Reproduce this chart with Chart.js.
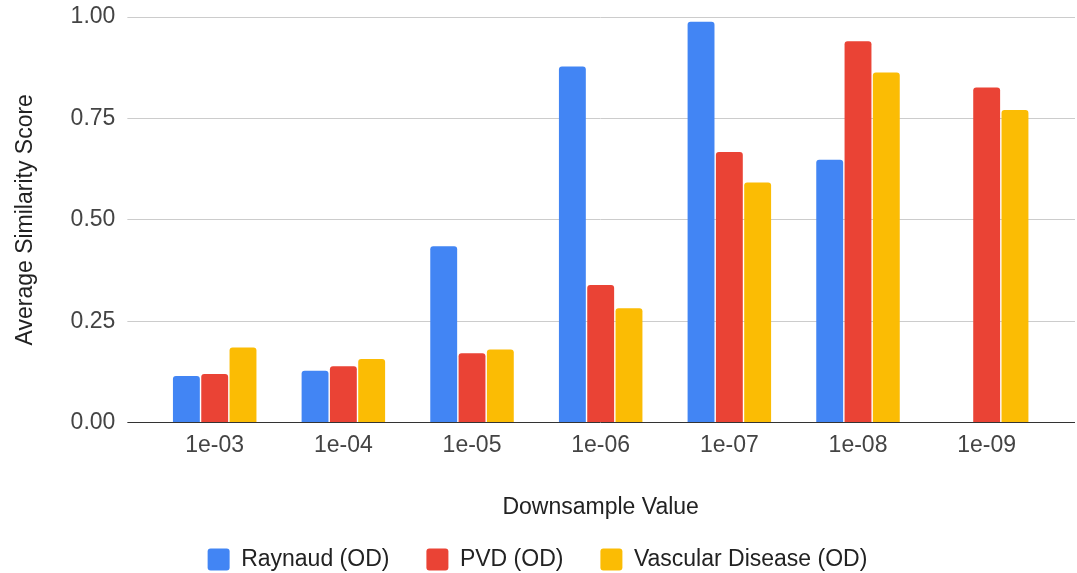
<!DOCTYPE html>
<html>
<head>
<meta charset="utf-8">
<script src="https://cdn.jsdelivr.net/npm/chart.js@4/dist/chart.umd.min.js"></script>
<style>
    body { margin: 0; background: #fff; }
    canvas { display: block; }
</style>
</head>
<body>
<canvas id="canvas" width="1077" height="573"></canvas>
<script>
var labels = ["1e-03", "1e-04", "1e-05", "1e-06", "1e-07", "1e-08", "1e-09"];
var raynaud = [0.115, 0.128, 0.435, 0.878, 0.988, 0.648, null];
var pvd = [0.120, 0.139, 0.171, 0.339, 0.667, 0.940, 0.826];
var vascular = [0.185, 0.157, 0.180, 0.282, 0.592, 0.863, 0.771];
var yMin = 0, yMax = 1, yStep = 0.25;

var colors = ["#4285F4", "#EA4335", "#FBBC04"];

Chart.defaults.font.family = "'Liberation Sans', Arial, sans-serif";
Chart.defaults.font.size = 23;

function gridColor(c) {
    return c.tick && c.tick.value === 0 ? "#333333" : "#cccccc";
}

// let the top of the plot sit right under the layout padding
function noOverhang(scale) {
    scale.paddingTop = 0;
    scale.paddingBottom = 0;
}

function series(name, data, color) {
    return {
        label: name,
        data: data,
        backgroundColor: color,
        borderWidth: 0,
        borderRadius: 3,
        borderSkipped: "start",
        categoryPercentage: 0.66,
        barPercentage: 0.95
    };
}

var myChart = {
    type: "bar",
    data: {
        labels: labels,
        datasets: [
            series("Raynaud (OD)", raynaud, colors[0]),
            series("PVD (OD)", pvd, colors[1]),
            series("Vascular Disease (OD)", vascular, colors[2])
        ]
    },
    options: {
        responsive: false,
        animation: false,
        devicePixelRatio: 1,
        layout: { padding: { top: 17, right: 2, left: 0, bottom: -8 } },
        plugins: {
            tooltip: { enabled: false },
            legend: {
                position: "bottom",
                labels: {
                    color: "#222222",
                    boxWidth: 22,
                    boxHeight: 22,
                    useBorderRadius: true,
                    borderRadius: 3,
                    padding: 37
                }
            }
        },
        scales: {
            x: {
                grid: { display: false, drawTicks: false },
                border: { display: false },
                ticks: { color: "#444444", padding: 9 },
                title: {
                    display: true,
                    text: "Downsample Value",
                    color: "#222222",
                    padding: { top: 25.6, bottom: -10.4 }
                }
            },
            y: {
                min: yMin,
                max: yMax,
                afterFit: noOverhang,
                grid: { color: gridColor, tickLength: 23 },
                border: { display: false },
                ticks: {
                    stepSize: yStep,
                    color: "#444444",
                    padding: 12,
                    callback: function(v) { return v.toFixed(2); }
                },
                title: {
                    display: true,
                    text: "Average Similarity Score",
                    color: "#222222",
                    padding: { top: 12, bottom: 19 }
                }
            },
            y2: {
                position: "right",
                min: yMin,
                max: yMax,
                afterFit: noOverhang,
                grid: { color: gridColor, tickLength: 24, drawOnChartArea: false },
                border: { display: false },
                ticks: { stepSize: yStep, display: false }
            }
        }
    }
};

window.onload = function() {
    var ctx = document.getElementById("canvas").getContext("2d");
    new Chart(ctx, myChart);
};
</script>
</body>
</html>
